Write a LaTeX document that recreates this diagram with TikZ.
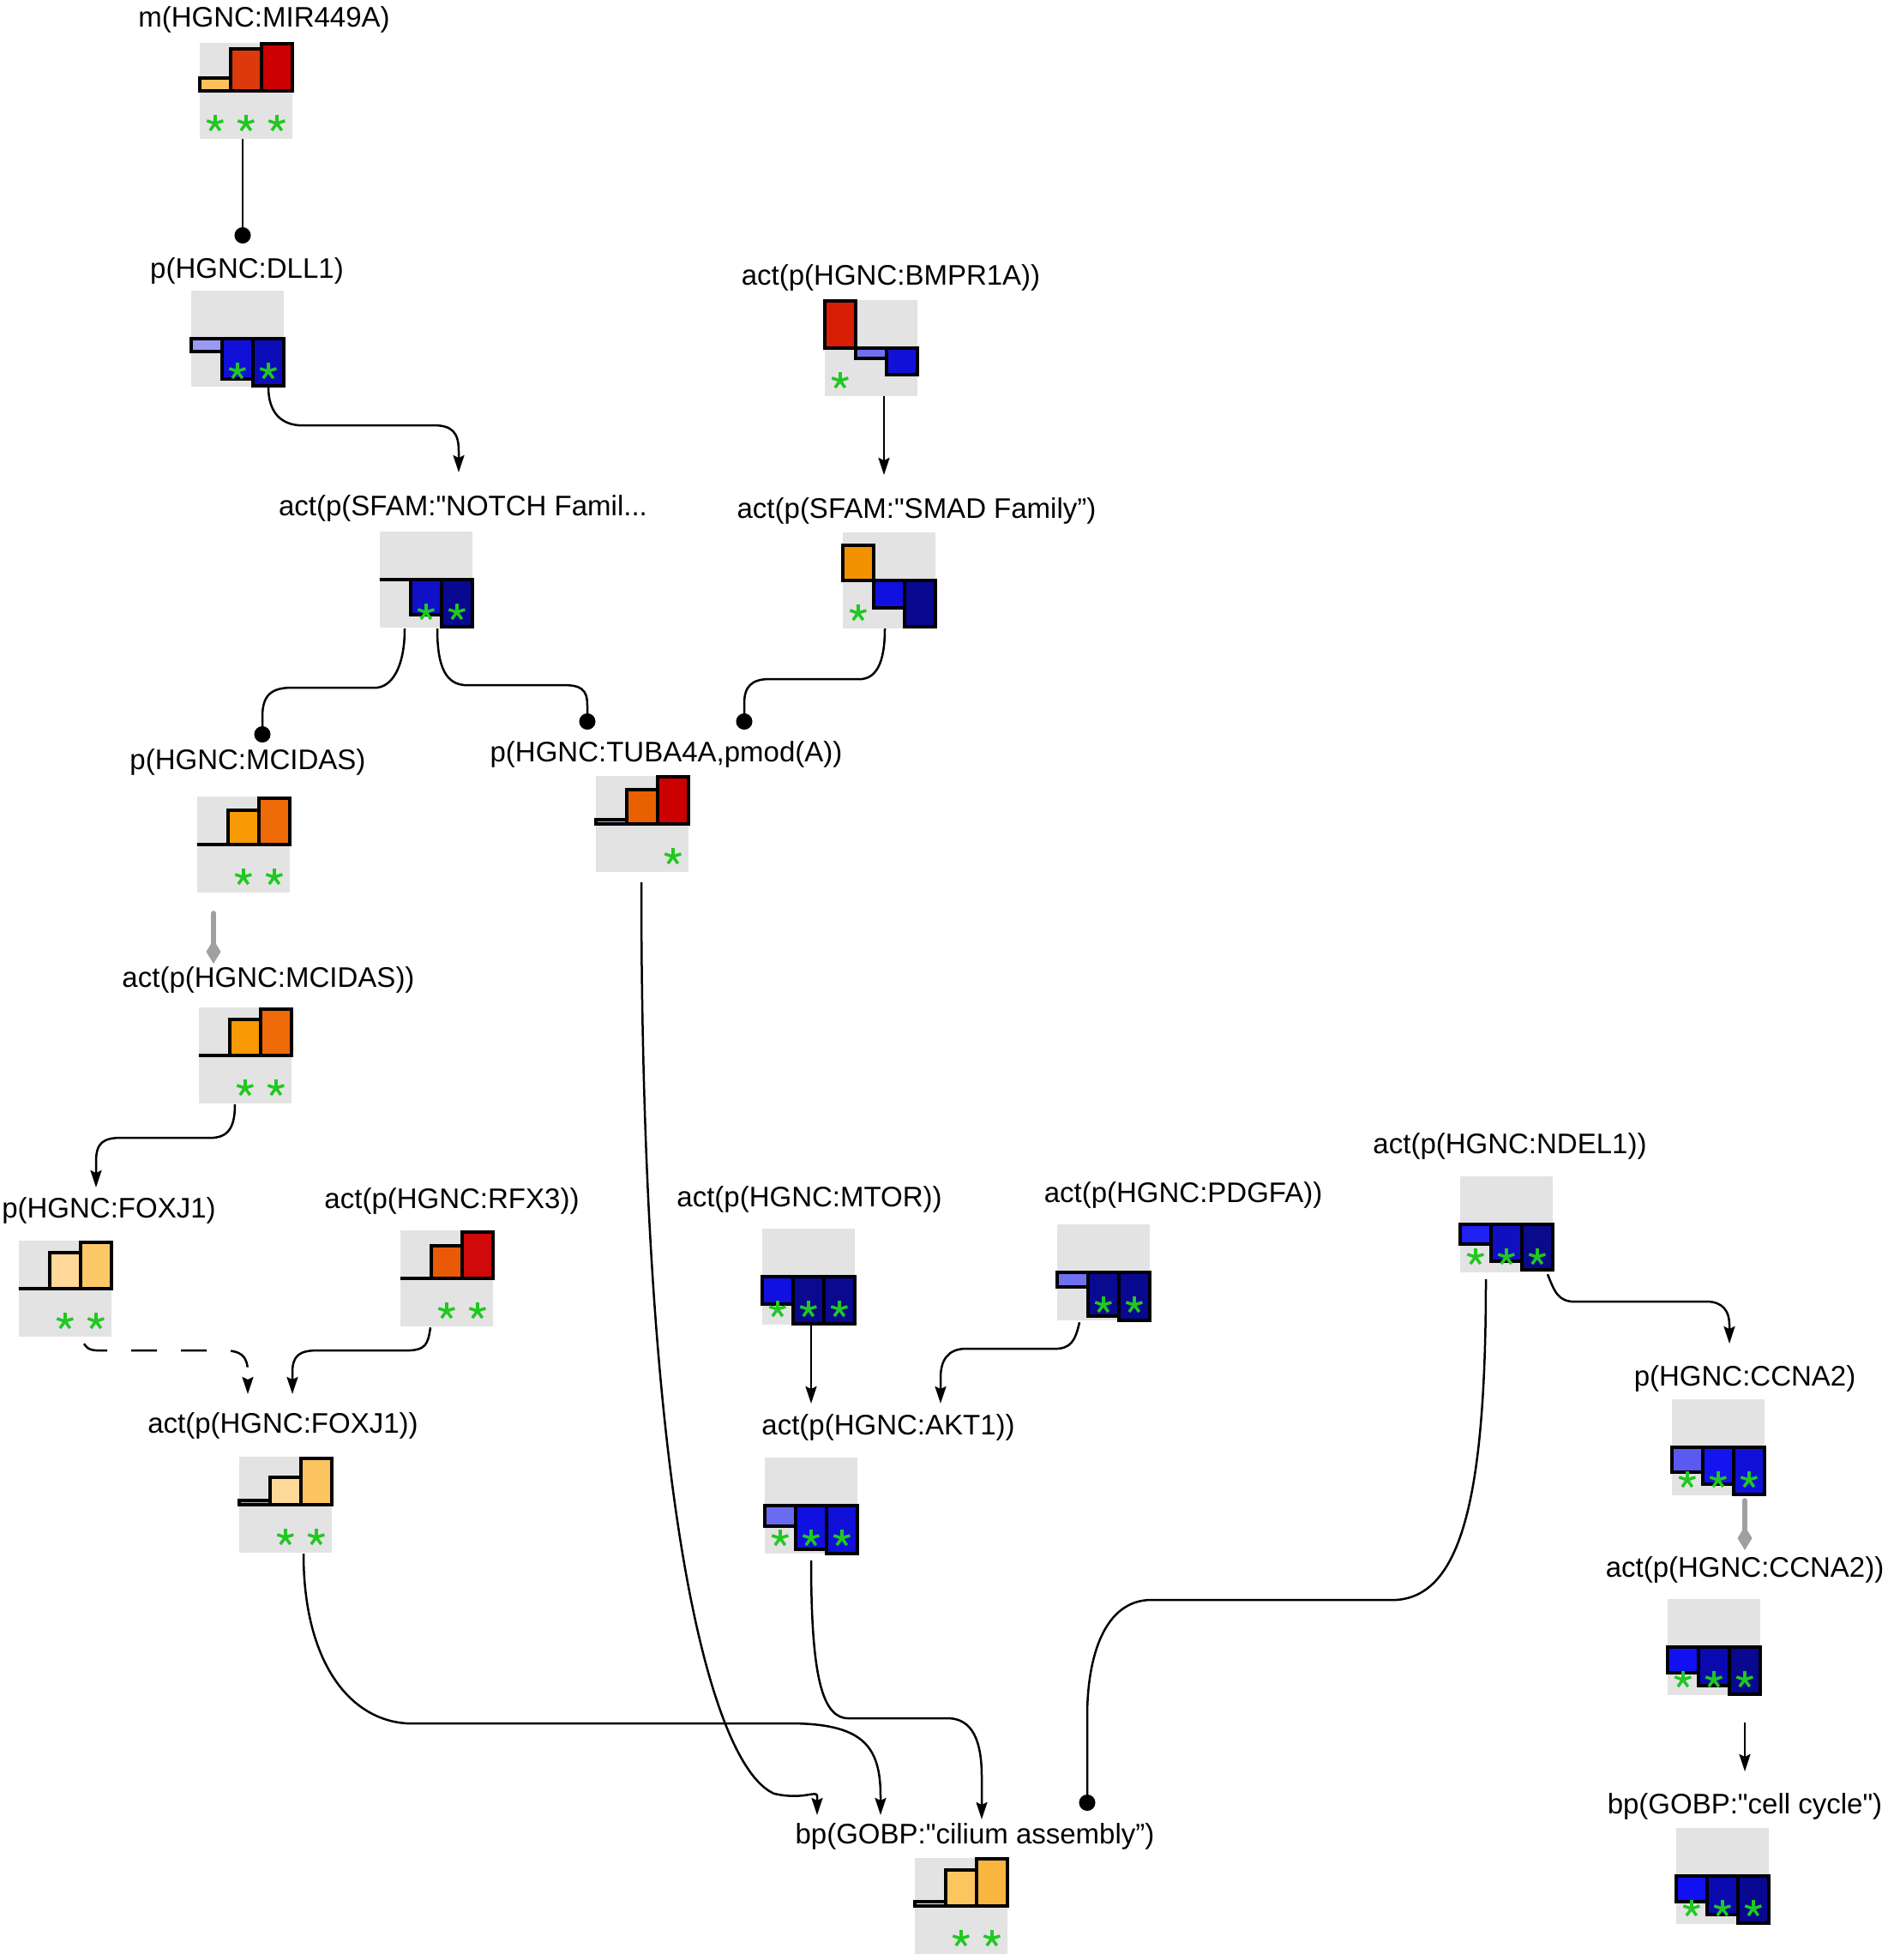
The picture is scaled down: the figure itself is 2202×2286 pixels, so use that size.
\documentclass[tikz,border=0pt]{standalone}
\usepackage{fontspec}
\newfontfamily\lsans{Liberation Sans}
\usetikzlibrary{arrows.meta,calc}
\definecolor{boxgray}{HTML}{E3E3E3}
\definecolor{starg}{HTML}{20C820}
\definecolor{diamgray}{HTML}{A0A0A0}
\definecolor{o1}{HTML}{FBC15A}
\definecolor{o2}{HTML}{DC3A0C}
\definecolor{r1}{HTML}{CC0000}
\definecolor{b1}{HTML}{9A9AF2}
\definecolor{b2}{HTML}{1010D8}
\definecolor{b3}{HTML}{0C0CB8}
\definecolor{rb}{HTML}{D81E05}
\definecolor{b4}{HTML}{7070F0}
\definecolor{b5}{HTML}{1010C8}
\definecolor{nv}{HTML}{080890}
\definecolor{orr}{HTML}{F29200}
\definecolor{b6}{HTML}{1010E0}
\definecolor{mo}{HTML}{F79A05}
\definecolor{mo2}{HTML}{EE6A08}
\definecolor{tl}{HTML}{A8A8E8}
\definecolor{to}{HTML}{E86000}
\definecolor{p1}{HTML}{FED898}
\definecolor{p2}{HTML}{FDC868}
\definecolor{rf1}{HTML}{E85A05}
\definecolor{rf2}{HTML}{D00A0A}
\definecolor{gy}{HTML}{B0B0B0}
\definecolor{p3}{HTML}{FCC45E}
\definecolor{mt2}{HTML}{0A0A90}
\definecolor{b7}{HTML}{6A6AF0}
\definecolor{nd1}{HTML}{2020F0}
\definecolor{nd2}{HTML}{1010C0}
\definecolor{nd3}{HTML}{0A0A8A}
\definecolor{cc1}{HTML}{5A5AF0}
\definecolor{cc2}{HTML}{1414F0}
\definecolor{ac1}{HTML}{1010F0}
\definecolor{ac2}{HTML}{0A0AB0}
\definecolor{ci2}{HTML}{FCC560}
\definecolor{ci3}{HTML}{F9B540}
\newcommand{\labfont}{\lsans\fontsize{33}{40}\selectfont}
\tikzset{
  glyph/.style={rectangle, fill=boxgray, draw=none, minimum width=108pt, minimum height=112pt, inner sep=0pt},
  lab/.style={font=\labfont, inner sep=0pt, anchor=base, text=black},
  lnk/.style={line width=2.5pt, draw=black},
  arr/.style={lnk, -{Stealth[length=20pt,width=13pt,inset=3pt]}},
  dotend/.style={lnk, -{Circle[length=19pt]}},
  dia/.style={draw=diamgray, fill=diamgray, line width=6pt, line cap=round, -{Kite[length=28pt,width=17pt,inset=14pt]}},
  astar/.pic={\foreach \a in {-90,-18,-162,54,126}{\draw[draw=starg,line width=3.5pt] (0,0) -- (\a:10);}}
}
\newcommand{\gbar}[5]{%
  \begin{scope}[shift={(#1.west)}]
    \filldraw[fill=#4,draw=black,line width=4.5pt] (#2*36,0) rectangle ++(36,{-1*(#3)});
    \ifnum#5=1 \pic at (#2*36+18,38) {astar};\fi
  \end{scope}}
\begin{document}
\begin{tikzpicture}[x=1pt,y=-1pt]
\useasboundingbox[fill=white] (0,0) rectangle (2202,2286);

% ---------- glyph boxes ----------
\node[glyph] (gmir) at (287,106) {};
\node[glyph] (gdll1) at (277,395) {};
\node[glyph] (gbmpr) at (1016,406) {};
\node[glyph] (gnotch) at (497,676) {};
\node[glyph] (gsmad) at (1037,677) {};
\node[glyph] (gmcidas) at (284,985) {};
\node[glyph] (gamcidas) at (286,1231) {};
\node[glyph] (gtuba) at (749,961) {};
\node[glyph] (gfoxj1) at (76,1503) {};
\node[glyph] (grfx3) at (521,1491) {};
\node[glyph] (gafoxj1) at (333,1755) {};
\node[glyph] (gmtor) at (943,1489) {};
\node[glyph] (gpdgfa) at (1287,1484) {};
\node[glyph] (gakt1) at (946,1756) {};
\node[glyph] (gndel1) at (1757,1428) {};
\node[glyph] (gccna2) at (2004,1688) {};
\node[glyph] (gaccna2) at (1999,1921) {};
\node[glyph] (gcc) at (2009,2188) {};
\node[glyph] (gcilium) at (1121,2223) {};

% ---------- labels ----------
\node[lab] (lmir) at (308,31) {m(HGNC:MIR449A)};
\node[lab] (ldll1) at (288,324) {p(HGNC:DLL1)};
\node[lab] (lbmpr) at (1039,332) {act(p(HGNC:BMPR1A))};
\node[lab] (lnotch) at (540,601) {act(p(SFAM:"NOTCH Famil...};
\node[lab] (lsmad) at (1069,604) {act(p(SFAM:"SMAD Family”)};
\node[lab] (lmcidas) at (289,897) {p(HGNC:MCIDAS)};
\node[lab] (lamcidas) at (313,1151) {act(p(HGNC:MCIDAS))};
\node[lab] (ltuba) at (777,888) {p(HGNC:TUBA4A,pmod(A))};
\node[lab] (lfoxj1) at (127,1420) {p(HGNC:FOXJ1)};
\node[lab] (lrfx3) at (527,1409) {act(p(HGNC:RFX3))};
\node[lab] (lafoxj1) at (330,1671) {act(p(HGNC:FOXJ1))};
\node[lab] (lmtor) at (944,1407) {act(p(HGNC:MTOR))};
\node[lab] (lpdgfa) at (1380,1402) {act(p(HGNC:PDGFA))};
\node[lab] (lakt1) at (1036,1673) {act(p(HGNC:AKT1))};
\node[lab] (lndel1) at (1761,1345) {act(p(HGNC:NDEL1))};
\node[lab] (lccna2) at (2035,1616) {p(HGNC:CCNA2)};
\node[lab] (laccna2) at (2035,1839) {act(p(HGNC:CCNA2))};
\node[lab] (lcc) at (2035,2115) {bp(GOBP:"cell cycle")};
\node[lab] (lcilium) at (1137,2150) {bp(GOBP:"cilium assembly”)};

% ---------- bars ----------
\gbar{gmir}{0}{15}{o1}{1}\gbar{gmir}{1}{49}{o2}{1}\gbar{gmir}{2}{55}{r1}{1}
\gbar{gdll1}{0}{-15}{b1}{0}\gbar{gdll1}{1}{-47}{b2}{1}\gbar{gdll1}{2}{-55}{b3}{1}
\gbar{gbmpr}{0}{55}{rb}{1}\gbar{gbmpr}{1}{-12}{b4}{0}\gbar{gbmpr}{2}{-31}{b2}{0}
\gbar{gnotch}{0}{0}{white}{0}\gbar{gnotch}{1}{-41}{b5}{1}\gbar{gnotch}{2}{-55}{nv}{1}
\gbar{gsmad}{0}{41}{orr}{1}\gbar{gsmad}{1}{-32}{b6}{0}\gbar{gsmad}{2}{-54}{nv}{0}
\gbar{gmcidas}{0}{0}{white}{0}\gbar{gmcidas}{1}{40}{mo}{1}\gbar{gmcidas}{2}{54}{mo2}{1}
\gbar{gamcidas}{0}{0}{white}{0}\gbar{gamcidas}{1}{42}{mo}{1}\gbar{gamcidas}{2}{54}{mo2}{1}
\gbar{gtuba}{0}{5}{tl}{0}\gbar{gtuba}{1}{40}{to}{0}\gbar{gtuba}{2}{55}{r1}{1}
\gbar{gfoxj1}{0}{0}{white}{0}\gbar{gfoxj1}{1}{42}{p1}{1}\gbar{gfoxj1}{2}{54}{p2}{1}
\gbar{grfx3}{0}{0}{white}{0}\gbar{grfx3}{1}{38}{rf1}{1}\gbar{grfx3}{2}{54}{rf2}{1}
\gbar{gafoxj1}{0}{5}{gy}{0}\gbar{gafoxj1}{1}{32}{p1}{1}\gbar{gafoxj1}{2}{54}{p3}{1}
\gbar{gmtor}{0}{-32}{b6}{1}\gbar{gmtor}{1}{-55}{mt2}{1}\gbar{gmtor}{2}{-55}{mt2}{1}
\gbar{gpdgfa}{0}{-17}{b4}{0}\gbar{gpdgfa}{1}{-51}{mt2}{1}\gbar{gpdgfa}{2}{-56}{nv}{1}
\gbar{gakt1}{0}{-24}{b7}{1}\gbar{gakt1}{1}{-51}{b6}{1}\gbar{gakt1}{2}{-56}{b2}{1}
\gbar{gndel1}{0}{-23}{nd1}{1}\gbar{gndel1}{1}{-43}{nd2}{1}\gbar{gndel1}{2}{-53}{nd3}{1}
\gbar{gccna2}{0}{-29}{cc1}{1}\gbar{gccna2}{1}{-43}{cc2}{1}\gbar{gccna2}{2}{-55}{b2}{1}
\gbar{gaccna2}{0}{-30}{ac1}{1}\gbar{gaccna2}{1}{-45}{ac2}{1}\gbar{gaccna2}{2}{-55}{nv}{1}
\gbar{gcc}{0}{-30}{ac1}{1}\gbar{gcc}{1}{-45}{ac2}{1}\gbar{gcc}{2}{-55}{nv}{1}
\gbar{gcilium}{0}{5}{white}{0}\gbar{gcilium}{1}{42}{ci2}{1}\gbar{gcilium}{2}{55}{ci3}{1}

% ---------- connectors ----------
% E1 MIR449A -| DLL1
\draw[dotend] ($(gmir.south)+(-4,0)$) -- ($(ldll1.base)+(-5,-40)$);
% E2 DLL1 -> NOTCH
\coordinate (e2s) at ($(gdll1.south)+(36,0)$);
\coordinate (e2t) at ($(lnotch.base)+(-5,-50)$);
\draw[arr] (e2s) .. controls +(0,30) and +(-25,0) .. ($(e2s)+(40,45)$) -- ($(e2t)+(-30,-55)$) .. controls +(22,0) and +(0,-22) .. ($(e2t)+(0,-25)$) -- (e2t);
% E3 BMPR1A -> SMAD
\draw[arr] ($(gbmpr.south)+(15,0)$) -- ($(lsmad.base)+(-38,-50)$);
% E4 NOTCH -| MCIDAS
\coordinate (e4s) at ($(gnotch.south)+(-25,1)$);
\coordinate (e4t) at ($(lmcidas.base)+(17,-31)$);
\draw[dotend] (e4s) .. controls +(0,45) and +(20,0) .. ($(e4s)+(-35,69)$) -- ($(e4t)+(35,-64)$) .. controls +(-25,0) and +(0,-25) .. ($(e4t)+(0,-30)$) -- (e4t);
% E5 NOTCH -| TUBA4A
\coordinate (e5s) at ($(gnotch.south)+(13,1)$);
\coordinate (e5t) at ($(ltuba.base)+(-92,-37)$);
\draw[dotend] (e5s) .. controls +(0,45) and +(-25,0) .. ($(e5s)+(35,66)$) -- ($(e5t)+(-30,-52)$) .. controls +(22,0) and +(0,-20) .. ($(e5t)+(0,-28)$) -- (e5t);
% E6 SMAD -| TUBA4A
\coordinate (e6s) at ($(gsmad.south)+(-5,0)$);
\coordinate (e6t) at ($(ltuba.base)+(91,-37)$);
\draw[dotend] (e6s) .. controls +(0,40) and +(20,0) .. ($(e6s)+(-30,59)$) -- ($(e6t)+(30,-59)$) .. controls +(-22,0) and +(0,-20) .. ($(e6t)+(0,-30)$) -- (e6t);
% E7 MCIDAS -> act(MCIDAS)
\draw[dia] ($(gmcidas.south)+(-35,24)$) -- ($(lamcidas.base)+(-64,-27)$);
% E8 act(MCIDAS) -> FOXJ1
\coordinate (e8s) at ($(gamcidas.south)+(-12,1)$);
\coordinate (e8t) at ($(lfoxj1.base)+(-15,-35)$);
\draw[arr] (e8s) .. controls +(0,30) and +(20,0) .. ($(e8s)+(-30,39)$) -- ($(e8t)+(30,-58)$) .. controls +(-22,0) and +(0,-22) .. ($(e8t)+(0,-30)$) -- (e8t);
% E9 FOXJ1 -> act(FOXJ1) dashed
\coordinate (e9s) at ($(gfoxj1.south)+(22,8)$);
\coordinate (e9t) at ($(lafoxj1.base)+(-41,-45)$);
\draw[arr,dash pattern=on 30pt off 28pt] (e9s) .. controls +(5,8) and +(-15,0) .. ($(e9s)+(25,8)$) -- ($(e9t)+(-30,-51)$) .. controls +(22,0) and +(0,-20) .. ($(e9t)+(0,-25)$) -- (e9t);
% E10 RFX3 -> act(FOXJ1)
\coordinate (e10s) at ($(grfx3.south)+(-19,1)$);
\coordinate (e10t) at ($(lafoxj1.base)+(11,-45)$);
\draw[arr] (e10s) .. controls +(-3,20) and +(25,0) .. ($(e10s)+(-30,27)$) -- ($(e10t)+(30,-51)$) .. controls +(-22,0) and +(0,-20) .. ($(e10t)+(0,-25)$) -- (e10t);
% E11 TUBA4A -> cilium
\coordinate (e11s) at ($(gtuba.south)+(-1,12)$);
\coordinate (e11t) at ($(lcilium.base)+(-184,-33)$);
\draw[arr] (e11s) .. controls +(0,750) and +(-70,-30) .. ($(e11t)+(-50,-25)$) .. controls +(35,8) and +(0,-8) .. ($(e11t)+(0,-22)$) -- (e11t);
% E12 act(FOXJ1) -> cilium
\coordinate (e12s) at ($(gafoxj1.south)+(21,1)$);
\coordinate (e12t) at ($(lcilium.base)+(-110,-33)$);
\draw[arr] (e12s) .. controls +(0,130) and +(-70,0) .. ($(e12s)+(127,198)$) -- ($(e12t)+(-107,-107)$) .. controls +(85,0) and +(0,-60) .. ($(e12t)+(0,-22)$) -- (e12t);
% E13 MTOR -> AKT1
\draw[arr] ($(gmtor.south)+(3,1)$) -- ($(lakt1.base)+(-90,-36)$);
% E14 PDGFA -> AKT1
\coordinate (e14s) at ($(gpdgfa.south)+(-28,2)$);
\coordinate (e14t) at ($(lakt1.base)+(61,-36)$);
\draw[arr] (e14s) .. controls +(-5,22) and +(20,0) .. ($(e14s)+(-30,31)$) -- ($(e14t)+(30,-64)$) .. controls +(-22,0) and +(0,-20) .. ($(e14t)+(0,-30)$) -- (e14t);
% E15 AKT1 -> cilium
\coordinate (e15s) at ($(gakt1.south)+(0,8)$);
\coordinate (e15t) at ($(lcilium.base)+(8,-28)$);
\draw[arr] (e15s) .. controls +(0,140) and +(-30,0) .. ($(e15s)+(44,184)$) -- ($(e15t)+(-40,-118)$) .. controls +(30,0) and +(0,-40) .. ($(e15t)+(0,-50)$) -- (e15t);
% E16 NDEL1 -| cilium
\coordinate (e16s) at ($(gndel1.south)+(-24,8)$);
\coordinate (e16t) at ($(lcilium.base)+(131,-38)$);
\draw[dotend] (e16s) .. controls +(0,260) and +(80,0) .. ($(e16s)+(-110,374)$) -- ($(e16t)+(75,-246)$) .. controls +(-55,0) and +(0,-70) .. ($(e16t)+(0,-110)$) -- (e16t);
% E17 NDEL1 -> CCNA2
\coordinate (e17s) at ($(gndel1.south)+(48,2)$);
\coordinate (e17t) at ($(lccna2.base)+(-18,-49)$);
\draw[arr] (e17s) .. controls +(8,20) and +(-20,0) .. ($(e17s)+(32,32)$) -- ($(e17t)+(-27,-49)$) .. controls +(20,0) and +(0,-15) .. ($(e17t)+(0,-22)$) -- (e17t);
% E18 CCNA2 -> act(CCNA2)
\draw[dia] ($(gccna2.south)+(31,6)$) -- ($(laccna2.base)+(0,-31)$);
% E19 act(CCNA2) -> cell cycle
\draw[arr] ($(gaccna2.south)+(36,32)$) -- ($(lcc.base)+(0,-49)$);
\end{tikzpicture}
\end{document}
